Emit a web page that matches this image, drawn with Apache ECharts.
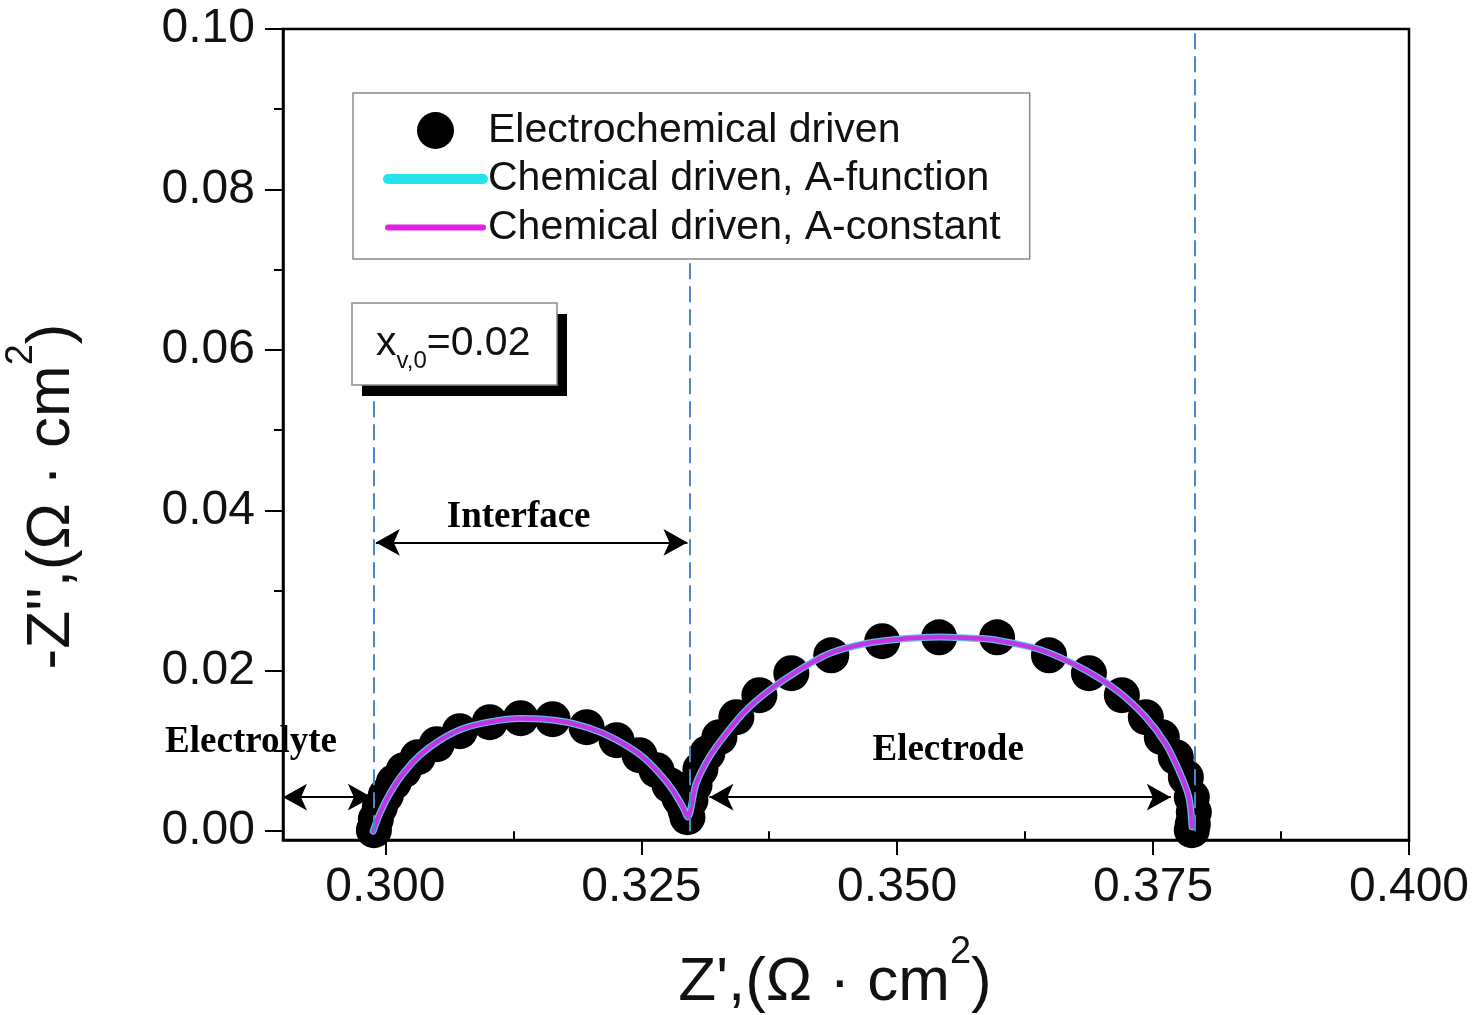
<!DOCTYPE html>
<html>
<head>
<meta charset="utf-8">
<script src="https://cdn.jsdelivr.net/npm/echarts@6/dist/echarts.min.js"></script>
<style>
  html, body { margin: 0; padding: 0; background: #fff; }
  #main { width: 1480px; height: 1015px; }
</style>
</head>
<body>
<div id="main"></div>
<script>
// axis ticks
const xTickValues = [0.300, 0.325, 0.350, 0.375, 0.400];
const xMinorValues = [0.3125, 0.3375, 0.3625, 0.3875];
const yTickValues = [0.00, 0.02, 0.04, 0.06, 0.08, 0.10];
const yMinorValues = [0.01, 0.03, 0.05, 0.07, 0.09];

// Electrochemical driven (dots)
const expZre = [0.29888, 0.29907, 0.29946, 0.30005, 0.30083, 0.30180, 0.30317, 0.30502, 0.30727, 0.31020,
  0.31322, 0.31634, 0.31966, 0.32259, 0.32483, 0.32649, 0.32776, 0.32873, 0.32932, 0.32951,
  0.32980, 0.33020, 0.33078, 0.33146, 0.33263, 0.33429, 0.33654, 0.33966, 0.34356, 0.34854,
  0.35410, 0.35976, 0.36483, 0.36873, 0.37195, 0.37429, 0.37585, 0.37722, 0.37820, 0.37878,
  0.37898, 0.37888, 0.37878];
const expZim = [0.00012, 0.00150, 0.00299, 0.00449, 0.00611, 0.00760, 0.00922, 0.01084, 0.01246, 0.01358,
  0.01408, 0.01396, 0.01296, 0.01134, 0.00947, 0.00760, 0.00573, 0.00411, 0.00262, 0.00174,
  0.00386, 0.00573, 0.00773, 0.00972, 0.01171, 0.01421, 0.01695, 0.01969, 0.02193, 0.02368,
  0.02417, 0.02417, 0.02193, 0.01969, 0.01695, 0.01421, 0.01171, 0.00922, 0.00673, 0.00424,
  0.00237, 0.00087, 0.00012];

// Chemical driven, A-function
const funcZre = [0.29881, 0.29946, 0.30044, 0.30174, 0.30337, 0.30532, 0.30759, 0.31020, 0.31312, 0.31573,
  0.31832, 0.32093, 0.32320, 0.32515, 0.32678, 0.32808, 0.32905, 0.32954, 0.33036, 0.33166,
  0.33329, 0.33524, 0.33751, 0.34012, 0.34337, 0.34695, 0.35085, 0.35410, 0.35800, 0.35976,
  0.36415, 0.36841, 0.37166, 0.37426, 0.37621, 0.37751, 0.37849, 0.37881];
const funcZim = [0.00000, 0.00221, 0.00470, 0.00719, 0.00947, 0.01134, 0.01280, 0.01362, 0.01404, 0.01392,
  0.01342, 0.01237, 0.01093, 0.00926, 0.00719, 0.00511, 0.00303, 0.00178, 0.00594, 0.00926,
  0.01217, 0.01508, 0.01757, 0.01985, 0.02214, 0.02339, 0.02401, 0.02421, 0.02401, 0.02380,
  0.02255, 0.02006, 0.01736, 0.01424, 0.01093, 0.00760, 0.00427, 0.00054];

// Chemical driven, A-constant (lies on top of the A-function curve)
const constZre = funcZre.slice();
const constZim = funcZim.slice();

// region boundaries (dashed lines) and arrows
const boundaryX = [0.29888, 0.32971, 0.37907];
const boundaryTop = [0.0556, 0.0712, 0.1];
const arrowSpans = [[0.2900, 0.29868, 0.00424], [0.29907, 0.32951, 0.0360], [0.33166, 0.37673, 0.00424]];
const regionNames = ['Electrolyte', 'Interface', 'Electrode'];
const regionPos = [[0.28688, 0.01109], [0.31302, 0.03913], [0.35498, 0.01009]];

const zip = (a, b) => a.map((v, i) => [v, b[i]]);
const font = 'Liberation Sans, Arial, sans-serif';

const dashLines = boundaryX.map((x, i) => [
  { coord: [x, 0], symbol: 'none' },
  { coord: [x, boundaryTop[i]], symbol: 'none' }
]);
const arrowLines = arrowSpans.map(s => [
  { coord: [s[0], s[2]], symbol: 'arrow', symbolSize: [20, 24],
    lineStyle: { color: '#000', type: 'solid', width: 2 } },
  { coord: [s[1], s[2]], symbol: 'arrow', symbolSize: [20, 24] }
]);

const supRich = {
  sup: { fontSize: 38, lineHeight: 32, padding: [0, 0, 42, 0], verticalAlign: 'bottom', fontFamily: font, color: '#111' },
  m: { fontSize: 62, lineHeight: 62, verticalAlign: 'bottom', fontFamily: font, color: '#111' }
};

const chart = echarts.init(document.getElementById('main'), null, { renderer: 'canvas' });

const option = {
  animation: false,
  backgroundColor: '#fff',
  grid: {
    left: 283, top: 29, right: 71, bottom: 175,
    show: true, borderColor: '#000', borderWidth: 2.5,
    outerBoundsMode: 'none'
  },
  legend: {
    left: 353, top: 93,
    orient: 'vertical',
    padding: [17, 29, 11, 30],
    itemWidth: 95, itemHeight: 37, itemGap: 7.5,
    backgroundColor: '#fff',
    borderColor: '#8a8a8a', borderWidth: 1.5, borderRadius: 0,
    selectedMode: false,
    textStyle: { fontSize: 41, lineHeight: 40, color: '#111', fontFamily: font },
    data: [
      { name: 'Electrochemical driven', icon: 'circle', itemStyle: { color: '#000', opacity: 1 } },
      { name: 'Chemical driven, A-function', lineStyle: { color: '#25e3ea', width: 10, cap: 'round' },
        itemStyle: { color: 'rgba(0,0,0,0)', borderWidth: 0 } },
      { name: 'Chemical driven, A-constant', lineStyle: { color: '#e41fe4', width: 6, cap: 'round' },
        itemStyle: { color: 'rgba(0,0,0,0)', borderWidth: 0 } }
    ]
  },
  xAxis: [{
    type: 'value', min: 0.29, max: 0.40, position: 'bottom',
    axisLine: { onZero: false, lineStyle: { color: '#000', width: 2.5 } },
    axisTick: { customValues: xTickValues, length: 15, lineStyle: { color: '#000', width: 2 } },
    axisLabel: { customValues: xTickValues, formatter: v => v.toFixed(3), fontSize: 48, color: '#111', fontFamily: font, margin: 24 },
    splitLine: { show: false },
    name: "{m|Z',(Ω · cm}{sup|2}{m|)}",
    nameLocation: 'middle', nameGap: 112,
    nameTextStyle: { rich: supRich, padding: [0, 22, 0, 0] }
  }, {
    type: 'value', min: 0.29, max: 0.40, position: 'bottom',
    axisLine: { show: false },
    axisTick: { customValues: xMinorValues, length: 9, lineStyle: { color: '#000', width: 2 } },
    axisLabel: { show: false },
    splitLine: { show: false }
  }],
  yAxis: [{
    type: 'value', min: -0.0011, max: 0.10, position: 'left',
    axisLine: { show: true, onZero: false, lineStyle: { color: '#000', width: 2.5 } },
    axisTick: { show: true, customValues: yTickValues, length: 18, lineStyle: { color: '#000', width: 2 } },
    axisLabel: { customValues: yTickValues, formatter: v => v.toFixed(2), fontSize: 48, color: '#111', fontFamily: font, margin: 28 },
    splitLine: { show: false },
    name: "{m|-Z'',(Ω · cm}{sup|2}{m|)}",
    nameLocation: 'middle', nameGap: 200,
    nameTextStyle: { rich: supRich, padding: [0, 124, 0, 0] }
  }, {
    type: 'value', min: -0.0011, max: 0.10, position: 'left',
    axisLine: { show: false },
    axisTick: { show: true, customValues: yMinorValues, length: 9, lineStyle: { color: '#000', width: 2 } },
    axisLabel: { show: false },
    splitLine: { show: false }
  }],
  series: [
    {
      name: 'Electrochemical driven',
      type: 'scatter',
      data: zip(expZre, expZim),
      symbol: 'circle', symbolSize: 36,
      itemStyle: { color: '#000', opacity: 1 },
      z: 2,
      silent: true
    },
    {
      name: 'Chemical driven, A-function',
      type: 'line',
      data: zip(funcZre, funcZim),
      symbol: 'none', smooth: 0.3,
      lineStyle: { color: '#62bde8', width: 7, cap: 'round' },
      itemStyle: { color: '#25e3ea' },
      z: 3,
      silent: true
    },
    {
      name: 'Chemical driven, A-constant',
      type: 'line',
      data: zip(constZre, constZim),
      symbol: 'none', smooth: 0.3,
      lineStyle: { color: '#c035e4', width: 4.5, cap: 'round' },
      itemStyle: { color: '#e41fe4' },
      z: 4,
      silent: true,
      markLine: {
        silent: true,
        symbol: ['none', 'none'],
        label: { show: false },
        lineStyle: { color: '#4a86c8', type: [16, 7], width: 2 },
        emphasis: { disabled: true },
        data: dashLines.concat(arrowLines)
      }
    }
  ]
};

chart.setOption(option);

// region labels placed through the axes, plus the x_v,0 note box
const labels = regionNames.map((t, i) => {
  const p = chart.convertToPixel({ xAxisIndex: 0, yAxisIndex: 0 }, regionPos[i]);
  return {
    type: 'text', x: p[0], y: p[1], z: 10,
    style: {
      text: t, align: 'center', verticalAlign: 'middle',
      font: 'bold 37px "Liberation Serif", "Times New Roman", serif', fill: '#000'
    }
  };
});

chart.setOption({
  graphic: labels.concat([
    { type: 'rect', shape: { x: 362, y: 314, width: 205, height: 82 }, style: { fill: '#000' }, z: 10 },
    { type: 'rect', shape: { x: 352, y: 303, width: 205, height: 82 }, style: { fill: '#fff', stroke: '#8a8a8a', lineWidth: 1.5 }, z: 11 },
    {
      type: 'text', x: 376, y: 343, z: 12,
      style: {
        text: '{m|x}{sub|v,0}{m|=0.02}', verticalAlign: 'middle',
        rich: {
          m: { fontSize: 41, lineHeight: 40, verticalAlign: 'top', fontFamily: font, fontWeight: 'normal', fill: '#111' },
          sub: { fontSize: 24, lineHeight: 24, padding: [26, 0, 0, 0], verticalAlign: 'top', fontFamily: font, fontWeight: 'normal', fill: '#111' }
        }
      }
    }
  ])
});
</script>
</body>
</html>
